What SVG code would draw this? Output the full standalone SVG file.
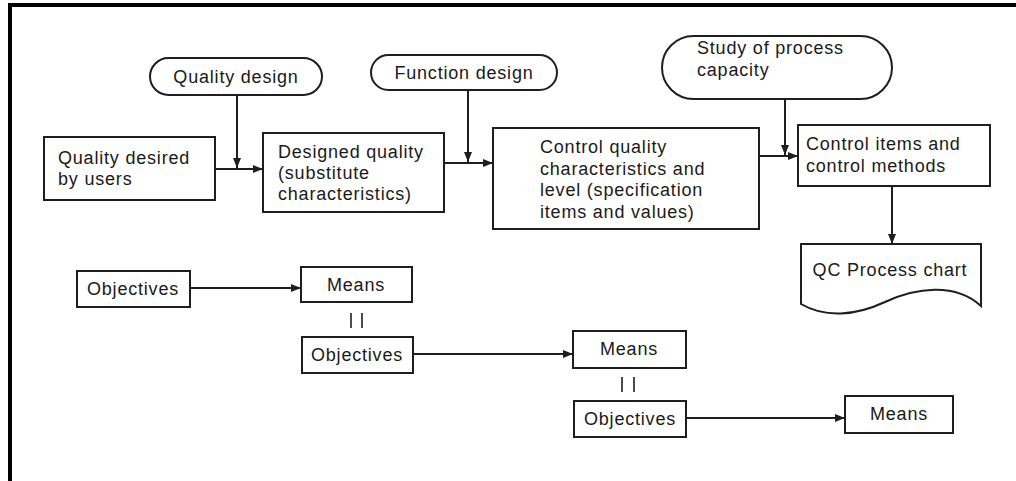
<svg xmlns="http://www.w3.org/2000/svg" width="1016" height="481" viewBox="0 0 1016 481">
  <style>
    .box { fill: #ffffff; stroke: #1e1e1e; stroke-width: 2; }
    .lbl { font-family: "Liberation Sans", Arial, sans-serif; font-size: 18px; letter-spacing: 0.8px; fill: #1a1a1a; }
    .mid { text-anchor: middle; }
    .wire { fill: none; stroke: #1e1e1e; stroke-width: 2; }
    .eq { fill: none; stroke: #1e1e1e; stroke-width: 1.6; }
  </style>
  <defs>
    <marker id="arrow" viewBox="0 0 10 8" refX="10" refY="4" markerWidth="11" markerHeight="8" markerUnits="userSpaceOnUse" orient="auto">
      <path d="M0,0 L10,4 L0,8 Z" fill="#1e1e1e"/>
    </marker>
  </defs>

  <rect width="1016" height="481" fill="#ffffff"/>

  <!-- page frame -->
  <g id="frame" fill="#000000">
    <rect x="8" y="3" width="1008" height="4"/>
    <rect x="8" y="3" width="4" height="478"/>
  </g>

  <!-- connectors -->
  <g id="connectors">
    <line class="wire" x1="215" y1="169" x2="263" y2="169" marker-end="url(#arrow)"/>
    <line class="wire" x1="237" y1="95" x2="237" y2="168" marker-end="url(#arrow)"/>
    <line class="wire" x1="444" y1="163" x2="493" y2="163" marker-end="url(#arrow)"/>
    <line class="wire" x1="468" y1="90" x2="468" y2="162" marker-end="url(#arrow)"/>
    <line class="wire" x1="759" y1="156" x2="798" y2="156" marker-end="url(#arrow)"/>
    <line class="wire" x1="785" y1="99" x2="785" y2="155" marker-end="url(#arrow)"/>
    <line class="wire" x1="892" y1="186" x2="892" y2="244" marker-end="url(#arrow)"/>
    <line class="wire" x1="190" y1="288" x2="301" y2="288" marker-end="url(#arrow)"/>
    <line class="wire" x1="413" y1="354" x2="573" y2="354" marker-end="url(#arrow)"/>
    <line class="wire" x1="686" y1="418" x2="845" y2="418" marker-end="url(#arrow)"/>
    <!-- equivalence marks between levels -->
    <line class="eq" x1="351" y1="313" x2="351" y2="328"/>
    <line class="eq" x1="362" y1="313" x2="362" y2="328"/>
    <line class="eq" x1="622" y1="377" x2="622" y2="392"/>
    <line class="eq" x1="634" y1="377" x2="634" y2="392"/>
  </g>

  <g id="quality-design">
    <rect class="box" x="150" y="58" width="172" height="37" rx="18.5"/>
    <text class="lbl mid" x="236" y="83">Quality design</text>
  </g>

  <g id="function-design">
    <rect class="box" x="371" y="55" width="186" height="35" rx="17.5"/>
    <text class="lbl mid" x="464" y="79">Function design</text>
  </g>

  <g id="process-capacity">
    <rect class="box" x="662" y="36" width="230" height="63" rx="31.5"/>
    <text class="lbl" x="697" y="54">Study of process</text>
    <text class="lbl" x="697" y="76">capacity</text>
  </g>

  <g id="desired-quality">
    <rect class="box" x="44" y="137" width="171" height="63"/>
    <text class="lbl" x="58" y="164">Quality desired</text>
    <text class="lbl" x="58" y="185">by users</text>
  </g>

  <g id="designed-quality">
    <rect class="box" x="263" y="133" width="181" height="79"/>
    <text class="lbl" x="278" y="158">Designed quality</text>
    <text class="lbl" x="278" y="179">(substitute</text>
    <text class="lbl" x="278" y="200">characteristics)</text>
  </g>

  <g id="control-quality">
    <rect class="box" x="493" y="128" width="266" height="101"/>
    <text class="lbl" x="540" y="153">Control quality</text>
    <text class="lbl" x="540" y="175">characteristics and</text>
    <text class="lbl" x="540" y="196">level (specification</text>
    <text class="lbl" x="540" y="218">items and values)</text>
  </g>

  <g id="control-items">
    <rect class="box" x="798" y="125" width="192" height="61"/>
    <text class="lbl" x="806" y="150">Control items and</text>
    <text class="lbl" x="806" y="172">control methods</text>
  </g>

  <g id="qc-process-chart">
    <path class="box" d="M801,244 H981 V306 C955,282 915,288 885,302 C855,316 825,318 801,304 Z"/>
    <text class="lbl mid" x="890" y="276">QC Process chart</text>
  </g>

  <g id="objectives-1">
    <rect class="box" x="77" y="271" width="113" height="36"/>
    <text class="lbl mid" x="133" y="295">Objectives</text>
  </g>

  <g id="means-1">
    <rect class="box" x="301" y="267" width="111" height="35"/>
    <text class="lbl mid" x="356" y="291">Means</text>
  </g>

  <g id="objectives-2">
    <rect class="box" x="302" y="337" width="111" height="36"/>
    <text class="lbl mid" x="357" y="361">Objectives</text>
  </g>

  <g id="means-2">
    <rect class="box" x="573" y="331" width="113" height="37"/>
    <text class="lbl mid" x="629" y="355">Means</text>
  </g>

  <g id="objectives-3">
    <rect class="box" x="574" y="401" width="112" height="36"/>
    <text class="lbl mid" x="630" y="425">Objectives</text>
  </g>

  <g id="means-3">
    <rect class="box" x="845" y="396" width="108" height="37"/>
    <text class="lbl mid" x="899" y="420">Means</text>
  </g>
</svg>
